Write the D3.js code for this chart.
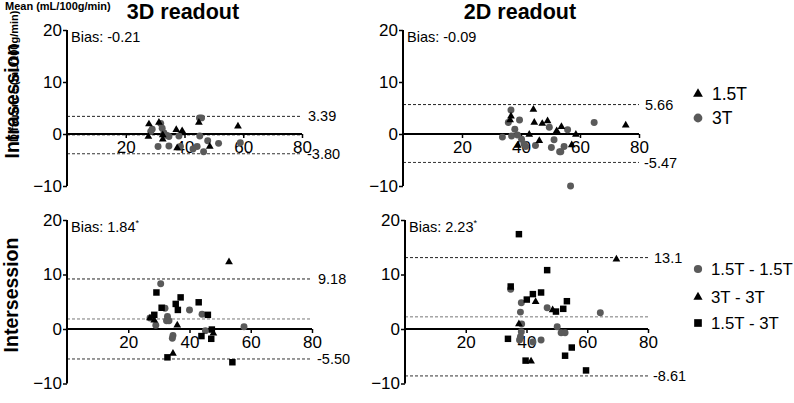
<!DOCTYPE html>
<html><head><meta charset="utf-8">
<script src="https://cdn.jsdelivr.net/npm/d3@7"></script>
<style>body{margin:0;background:#fff}svg{display:block}text{font-family:"Liberation Sans",Arial,sans-serif}</style>
</head><body><div id="chart"></div>
<script>
// ---- data ----
const xTicks = [20, 40, 60, 80];
const yTicks = [-10, 0, 10, 20];
const panelTitles = ["3D readout", "2D readout"];
const rowLabels = ["Intrasession", "Intersession"];

const intra3D_15T = [[27.9,1.9],[27.7,-0.5],[31.3,2.2],[32.6,-0.2],[32.6,-1.0],[37.2,0.8],[39.2,0.6],[37.5,-2.7],[44.9,2.2],[48.6,-2.4],[58.2,1.5]];
const intra3D_3T = [[29.0,0.9],[31.9,2.0],[32.4,1.1],[33.0,0.2],[34.1,-0.3],[34.7,-0.5],[31.0,-2.4],[34.7,-2.3],[38.1,-0.4],[38.6,-2.4],[45.1,3.1],[45.8,3.1],[45.2,-0.4],[44.3,-2.4],[42.9,-2.9],[46.5,-3.4],[47.9,-1.3],[51.6,-1.8],[59.0,-1.7],[28.5,0.5]];
const intra2D_15T = [[36.6,3.4],[36.3,2.7],[44.2,4.7],[44.5,2.2],[47.2,2.0],[49.0,2.5],[42.8,-0.1],[46.2,-1.3],[52.1,0.6],[53.7,1.4],[58.6,-0.1],[57.2,-2.1],[75.5,1.7],[38.9,-2.2]];
const intra2D_3T = [[33.7,-0.6],[35.7,2.2],[36.6,4.6],[36.8,-0.4],[37.9,0.9],[39.5,2.7],[38.8,-0.2],[40.2,-1.0],[41.0,-1.9],[41.6,-2.4],[44.9,-2.2],[49.6,1.3],[51.2,-1.1],[50.3,-2.6],[53.1,-3.4],[53.5,-3.4],[54.6,-2.4],[55.8,0.8],[64.8,2.2],[56.8,-10.0]];

const inter3D_15_15 = [[30.6,8.3],[27.1,2.0],[29.0,0.7],[32.0,3.8],[32.8,2.3],[32.5,1.5],[33.3,1.5],[34.6,-1.2],[34.4,-1.7],[40.0,3.5],[44.1,2.7],[45.2,-0.3],[57.8,0.4]];
const inter3D_3_3 = [[27.1,2.0],[28.5,1.6],[36.0,0.7],[34.6,-4.5],[47.8,-0.8],[52.9,12.3]];
const inter3D_15_3 = [[29.2,6.7],[28.5,2.6],[30.9,3.9],[37.1,5.8],[35.5,4.6],[36.2,3.5],[43.0,4.9],[46.0,2.6],[47.3,-0.1],[47.1,-1.8],[43.9,-1.3],[32.8,-5.2],[54.0,-6.1]];
const inter2D_15_15 = [[34.8,7.3],[38.3,4.8],[38.0,3.1],[38.4,0.9],[38.3,-0.5],[37.7,-2.0],[42.1,-2.4],[44.8,-2.0],[46.8,3.9],[50.1,0.4],[51.4,-0.7],[52.7,-0.7],[64.3,3.0],[38.0,-1.4]];
const inter2D_3_3 = [[37.5,0.9],[43.0,5.0],[48.6,3.5],[41.5,-5.9],[69.6,12.8]];
const inter2D_15_3 = [[37.5,17.4],[46.8,10.8],[34.8,7.8],[44.8,6.7],[42.1,6.4],[40.1,5.4],[53.3,5.1],[52.1,3.7],[49.7,3.2],[33.9,-1.8],[54.9,-3.4],[52.7,-4.9],[39.7,-5.8],[59.6,-7.6]];

const biasValues = [-0.21, -0.09, 1.84, 2.23];
const upperLoA = [3.39, 5.66, 9.18, 13.1];
const lowerLoA = [-3.80, -5.47, -5.50, -8.61];
const upperLabels = ["3.39", "5.66", "9.18", "13.1"];
const lowerLabels = ["-3.80", "-5.47", "-5.50", "-8.61"];
const biasLabels = ["-0.21", "-0.09", "1.84", "2.23"];
const biasStar = [false, false, true, true];
const legendTop = ["1.5T", "3T"];
const legendBottom = ["1.5T - 1.5T", "3T - 3T", "1.5T - 3T"];

// ---- drawing ----
const W = 794, H = 403;
const svg = d3.select("#chart").append("svg").attr("width", W).attr("height", H);
const FF = '"Liberation Sans",Arial,sans-serif';

const GREY = "#5a5a5a";
const sym = {
  circle: {type: d3.symbolCircle, size: 38, fill: GREY},
  triangle: {type: d3.symbolTriangle, size: 26, fill: "#000"},
  square: {type: d3.symbolSquare, size: 42, fill: "#000"}
};

const panels = [
  {x0: 67, x1: 302, y20: 30, ym10: 186, series: [[intra3D_3T, "circle"], [intra3D_15T, "triangle"]]},
  {x0: 403, x1: 639, y20: 30, ym10: 186, series: [[intra2D_3T, "circle"], [intra2D_15T, "triangle"]]},
  {x0: 67, x1: 312, y20: 220, ym10: 383.5, series: [[inter3D_15_15, "circle"], [inter3D_3_3, "triangle"], [inter3D_15_3, "square"]]},
  {x0: 405, x1: 648, y20: 220, ym10: 383.5, series: [[inter2D_15_15, "circle"], [inter2D_3_3, "triangle"], [inter2D_15_3, "square"]]}
];

panels.forEach((p, i) => {
  const x = d3.scaleLinear().domain([0, 80]).range([p.x0, p.x1]);
  const y = d3.scaleLinear().domain([-10, 20]).range([p.ym10, p.y20]);
  const g = svg.append("g");

  // limit lines
  [[upperLoA[i], "#222"], [lowerLoA[i], "#333"], [biasValues[i], "#777"]].forEach(([v, c]) => {
    g.append("line").attr("x1", x(0)).attr("x2", x(80)).attr("y1", y(v)).attr("y2", y(v))
      .attr("stroke", c).attr("stroke-width", 1).attr("stroke-dasharray", "3,2");
  });
  g.append("text").attr("x", x(80) + 6).attr("y", y(upperLoA[i])).attr("dy", "0.35em")
    .attr("font-size", 14.5).text(upperLabels[i]);
  g.append("text").attr("x", x(80) + 5).attr("y", y(lowerLoA[i])).attr("dy", "0.35em")
    .attr("font-size", 14.5).text(lowerLabels[i]);

  // axes
  const ya = g.append("g").attr("transform", `translate(${x(0)},0)`)
    .call(d3.axisLeft(y).tickValues(yTicks).tickSize(4).tickPadding(1).tickFormat(d3.format("d")));
  ya.select(".domain").attr("stroke-width", 2).attr("d", `M0,${y(-10)}V${y(20)}`);
  ya.selectAll(".tick line").attr("stroke-width", 1.5);
  ya.selectAll("text").attr("font-size", 17).attr("font-family", FF);

  const xa = g.append("g").attr("transform", `translate(0,${y(0)})`)
    .call(d3.axisBottom(x).tickValues(xTicks).tickSize(4).tickPadding(3));
  xa.select(".domain").attr("stroke-width", 2).attr("d", `M${x(0)},0H${x(80)}`);
  xa.selectAll(".tick line").attr("stroke-width", 1.5);
  xa.selectAll("text").attr("font-size", 17).attr("font-family", FF);

  // points
  p.series.forEach(([data, s]) => {
    const sd = sym[s];
    g.selectAll(null).data(data).enter().append("path")
      .attr("d", d3.symbol().type(sd.type).size(sd.size))
      .attr("transform", d => `translate(${x(d[0])},${y(d[1])})`)
      .attr("fill", sd.fill);
  });

  // bias label
  const bt = g.append("text").attr("x", x(0) + 4).attr("y", y(20) + 12).attr("font-size", 14.5)
    .text("Bias: " + biasLabels[i]);
  if (biasStar[i]) bt.append("tspan").attr("font-size", 9).attr("dy", -6).text("*");
});

// titles
svg.append("text").attr("x", 183).attr("y", 19).attr("text-anchor", "middle")
  .attr("font-size", 21.5).attr("font-weight", "bold").text(panelTitles[0]);
svg.append("text").attr("x", 520).attr("y", 19).attr("text-anchor", "middle")
  .attr("font-size", 21.5).attr("font-weight", "bold").text(panelTitles[1]);

// garbled top-left labels
svg.append("text").attr("x", 5).attr("y", 10).attr("font-size", 11).attr("font-weight", "bold")
  .text("Mean (mL/100g/min)");
svg.append("text").attr("transform", "translate(18,142) rotate(-90)").attr("font-size", 11)
  .attr("font-weight", "bold").text("Difference (mL/100g/min)");

// row labels
svg.append("text").attr("transform", "translate(19,101) rotate(-90)").attr("text-anchor", "middle")
  .attr("font-size", 19.5).attr("font-weight", "bold").text(rowLabels[0]);
svg.append("text").attr("transform", "translate(18,295) rotate(-90)").attr("text-anchor", "middle")
  .attr("font-size", 19.5).attr("font-weight", "bold").text(rowLabels[1]);

// legends
const legT = [["triangle", 94], ["circle", 118]];
legT.forEach(([s, yy], k) => {
  const sd = sym[s];
  svg.append("path").attr("d", d3.symbol().type(sd.type).size(sd.size * 1.6))
    .attr("transform", `translate(698,${yy})`).attr("fill", sd.fill);
  svg.append("text").attr("x", 712).attr("y", yy).attr("dy", "0.36em").attr("font-size", 17.5).text(legendTop[k]);
});
const legB = [["circle", 269], ["triangle", 297], ["square", 323]];
legB.forEach(([s, yy], k) => {
  const sd = sym[s];
  svg.append("path").attr("d", d3.symbol().type(sd.type).size(sd.size * 1.4))
    .attr("transform", `translate(698,${yy})`).attr("fill", sd.fill);
  svg.append("text").attr("x", 711).attr("y", yy).attr("dy", "0.36em").attr("font-size", 16.8).text(legendBottom[k]);
});
</script></body></html>
